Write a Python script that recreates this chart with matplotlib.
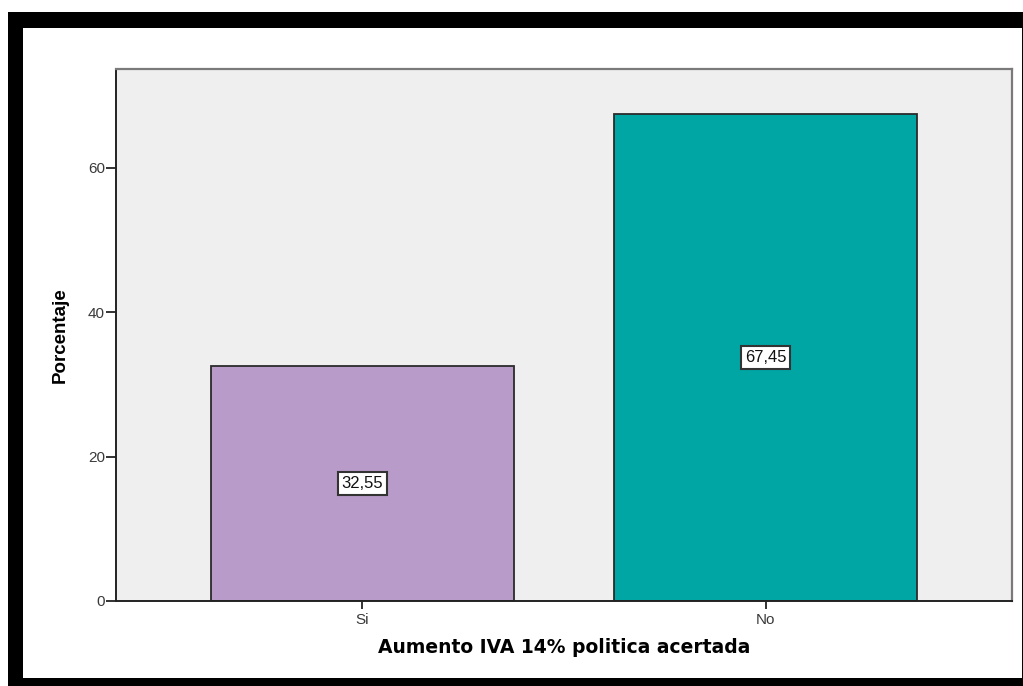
import matplotlib
matplotlib.use("Agg")
import matplotlib.pyplot as plt
from matplotlib.patches import Rectangle

categories = ["Si", "No"]
percentages = [32.55, 67.45]
value_labels = ["32,55", "67,45"]
bar_colors = ["#B89BC9", "#00A6A4"]
y_ticks = [0, 20, 40, 60]

plt.rcParams["font.family"] = ["Liberation Sans", "DejaVu Sans"]

W, H = 1023, 686
fig = plt.figure(figsize=(W / 100, H / 100), dpi=100, facecolor="white")

# Outer black frame around the chart, kept behind the axes
fig.patches.append(Rectangle((8 / W, 0), (W - 8) / W, (H - 12) / H,
                             transform=fig.transFigure, facecolor="black",
                             edgecolor="none", zorder=-2))
fig.patches.append(Rectangle((23 / W, (H - 678) / H), (1022 - 23) / W, (678 - 28) / H,
                             transform=fig.transFigure, facecolor="white",
                             edgecolor="none", zorder=-1))

ax = fig.add_axes([116 / W, (H - 601) / H, (1012 - 116) / W, (601 - 69) / H])
ax.set_facecolor("#EFEFEF")

x = range(len(categories))
bars = ax.bar(x, percentages, width=0.75, color=bar_colors,
              edgecolor="#2b2b2b", linewidth=1.3, zorder=2)

for xi, val, lab in zip(x, percentages, value_labels):
    ax.text(xi, val / 2, lab, ha="center", va="center", fontsize=12,
            color="#111111", zorder=3,
            bbox=dict(boxstyle="square,pad=0.22", facecolor="white",
                      edgecolor="#333333", linewidth=1.5))

ax.set_xlim(-0.61, 1.61)
ax.set_ylim(0, 73.7)
ax.set_yticks(y_ticks)
ax.set_xticks(list(x))
ax.set_xticklabels(categories)

ax.tick_params(axis="both", direction="out", width=1.3,
               color="#222222", labelsize=11, labelcolor="#3a3a3a")
ax.tick_params(axis="x", length=5.5, pad=3)
ax.tick_params(axis="y", length=7.5, pad=0.5)

for side in ("left", "bottom"):
    ax.spines[side].set_color("#222222")
    ax.spines[side].set_linewidth(1.4)
for side in ("top", "right"):
    ax.spines[side].set_color("#7a7a7a")
    ax.spines[side].set_linewidth(1.6)

ax.set_ylabel("Porcentaje", fontsize=13.5, fontweight="bold", labelpad=14)
ax.set_xlabel("Aumento IVA 14% politica acertada", fontsize=13.5,
              fontweight="bold", labelpad=8,
              family=["DejaVu Sans"])

fig.savefig("out.png", dpi=100, facecolor="white")
